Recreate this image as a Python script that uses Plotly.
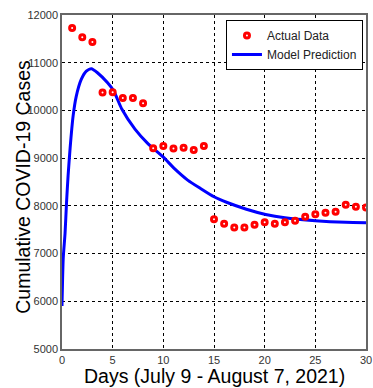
import plotly.graph_objects as go

# Observed cumulative cases, days 1-30
days = list(range(1, 31))
actual_cases = [11730, 11535, 11435, 10375, 10380, 10258, 10258, 10152, 9205, 9252,
                9200, 9220, 9173, 9255, 7721, 7625, 7548, 7548, 7604, 7658,
                7625, 7658, 7688, 7771, 7825, 7854, 7875, 8021, 7979, 7965]

# Model prediction curve, sampled along the day axis
model_days = [0, 0.12, 0.3, 0.45, 0.6, 0.8, 1.1, 1.4, 1.9, 2.4, 2.9, 3.5, 4.5, 5.1,
              5.9, 7.2, 8.5, 10, 11.1, 12.4, 13.7, 15, 16.3, 18.2, 20.1, 22, 25, 28, 30]
model_cases = [5900, 6900, 7420, 8080, 8630, 9210, 9890, 10290, 10650, 10825, 10875,
               10790, 10580, 10410, 10030, 9610, 9300, 9020, 8780, 8540, 8360, 8190,
               8070, 7930, 7820, 7750, 7690, 7655, 7645]

x_ticks = [0, 5, 10, 15, 20, 25, 30]
y_ticks = [5000, 6000, 7000, 8000, 9000, 10000, 11000, 12000]

FONT = "Liberation Sans, Arial, sans-serif"

fig = go.Figure()
fig.add_trace(go.Scatter(
    x=model_days, y=model_cases, mode="lines", name="Model Prediction",
    line=dict(color="#0000ff", width=3, shape="spline", smoothing=0.6),
))
fig.add_trace(go.Scatter(
    x=days, y=actual_cases, mode="markers", name="Actual Data",
    marker=dict(symbol="circle", size=5, color="white",
                line=dict(color="#ff0000", width=3)),
))

axis_common = dict(
    showgrid=True, gridcolor="black", gridwidth=1, griddash="3px,3px",
    showline=True, linecolor="#666666", linewidth=1.5, mirror=True,
    ticks="", zeroline=False,
    tickfont=dict(family=FONT, size=11, color="#333333"),
)

fig.update_layout(
    width=373, height=388,
    margin=dict(l=62, r=1, t=15, b=39),
    paper_bgcolor="white", plot_bgcolor="white",
    showlegend=True,
    legend=dict(
        x=0.99, y=0.985, xanchor="right", yanchor="top",
        bgcolor="white", bordercolor="black", borderwidth=1,
        font=dict(family=FONT, size=12, color="#222222"),
        traceorder="reversed", itemwidth=30, tracegroupgap=0,
    ),
    xaxis=dict(range=[0, 30], tickvals=x_ticks,
               ticktext=[str(v) for v in x_ticks],
               ticklabeloverflow="allow", **axis_common),
    yaxis=dict(range=[5000, 12000], tickvals=y_ticks,
               ticktext=[str(v) for v in y_ticks], **axis_common),
    annotations=[
        dict(text="Days (July 9 - August 7, 2021)", xref="paper", yref="paper",
             x=0.5, y=-0.081, xanchor="center", yanchor="middle", showarrow=False,
             font=dict(family=FONT, size=19.5, color="black")),
        dict(text="Cumulative COVID-19 Cases", xref="paper", yref="paper",
             x=-0.129, y=0.485, xanchor="center", yanchor="middle", showarrow=False,
             textangle=-90, font=dict(family=FONT, size=19.5, color="black")),
    ],
)

fig.write_html("out.html")
